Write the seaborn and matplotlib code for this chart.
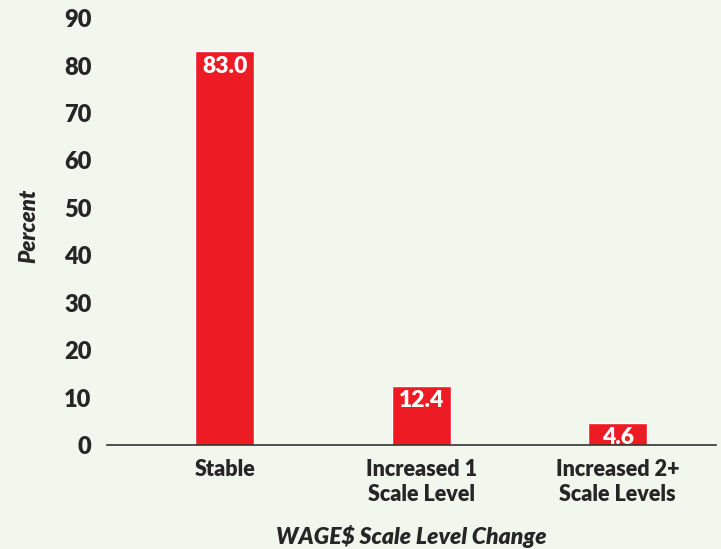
import matplotlib
matplotlib.use('Agg')
import matplotlib.pyplot as plt
import seaborn as sns
import pandas as pd

# chart data
categories = ['Stable', 'Increased 1\nScale Level', 'Increased 2+\nScale Levels']
percent = [83.0, 12.4, 4.6]

df = pd.DataFrame({'change': categories, 'percent': percent})

bg = '#F2F7EE'
red = '#ED1C24'

sns.set_style('white')
plt.rcParams['font.family'] = ['Lato', 'DejaVu Sans']

fig = plt.figure(figsize=(7.21, 5.49), dpi=100, facecolor=bg)
ax = fig.add_axes([0.148, 0.1894, 0.845, 0.80])
ax.set_facecolor(bg)

sns.barplot(data=df, x='change', y='percent', color=red, width=0.30,
            saturation=1, ax=ax)

# value labels inside the top of each bar
for i, v in enumerate(percent):
    ax.annotate(f'{v:.1f}', (i, v), xytext=(0, -3), textcoords='offset points',
                ha='center', va='top', color='white', fontsize=16.5,
                fontweight='heavy')

ax.set_xlim(-0.60, 2.50)
ax.set_ylim(0, 92.6)
ax.set_yticks(range(0, 91, 10))
ax.tick_params(axis='y', length=0, labelsize=17, pad=11)
ax.tick_params(axis='x', length=0, labelsize=15.5, pad=10)
for lab in ax.get_xticklabels() + ax.get_yticklabels():
    lab.set_fontweight('heavy')
    lab.set_linespacing(1.25)
for lab in ax.get_yticklabels():
    lab.set_horizontalalignment('right')

ax.set_ylabel('Percent', fontsize=16, fontweight='heavy', style='italic', labelpad=18)
ax.set_xlabel('WAGE$ Scale Level Change', fontsize=16.5, fontweight='heavy',
              style='italic', labelpad=14)

for s in ['top', 'right', 'left']:
    ax.spines[s].set_visible(False)
ax.spines['bottom'].set_color('#333333')
ax.spines['bottom'].set_linewidth(1.2)

fig.savefig('out.png', dpi=100, facecolor=bg)
